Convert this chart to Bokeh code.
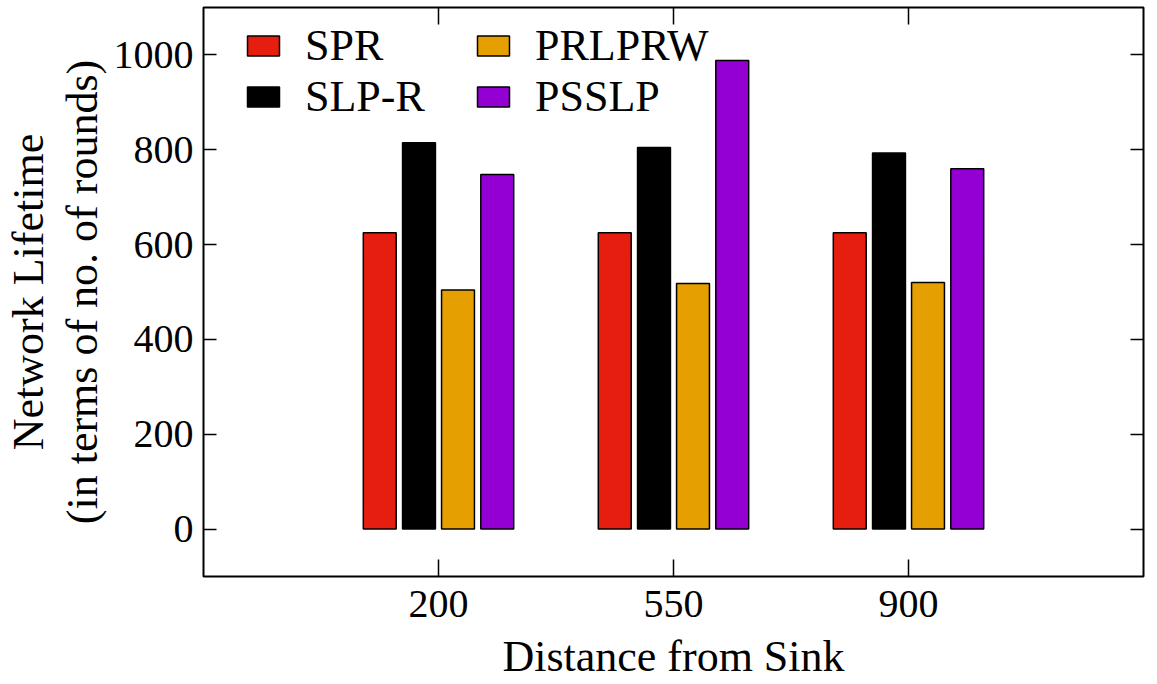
from bokeh.plotting import figure
from bokeh.models import (FixedTicker, LinearAxis, Range1d, Legend, LegendItem,
                          ColumnDataSource)
from bokeh.embed import file_html
from bokeh.resources import INLINE

# ---- data ----
distances = ["200", "550", "900"]
series_names = ["SPR", "SLP-R", "PRLPRW", "PSSLP"]
spr = [625, 625, 625]
slp_r = [815, 805, 793]
prlprw = [504, 518, 520]
psslp = [748, 988, 760]
colors = ["#e51e10", "#000000", "#e69f00", "#9400d3"]
y_ticks = [0, 200, 400, 600, 800, 1000]

FONT = "Liberation Serif"

p = figure(width=1157, height=684, output_backend="svg", toolbar_location=None,
           x_range=Range1d(0, 4), y_range=Range1d(-100, 1100))
p.min_border_left = 203
p.min_border_right = 14
p.min_border_top = 7
p.min_border_bottom = 108
p.xgrid.visible = False
p.ygrid.visible = False
p.outline_line_color = "black"
p.outline_line_width = 2
p.background_fill_color = "white"
p.border_fill_color = "white"

group_x = [1, 2, 3]
offsets = [-0.25, -0.083, 0.083, 0.25]
values = [spr, slp_r, prlprw, psslp]
renderers = []
for vals, off, col in zip(values, offsets, colors):
    src = ColumnDataSource(dict(x=[g + off for g in group_x], top=vals))
    r = p.vbar(x="x", top="top", bottom=0, width=0.14, source=src,
               fill_color=col, line_color="black", line_width=1.5)
    renderers.append(r)

# axes
xa = p.xaxis[0]
xa.ticker = FixedTicker(ticks=group_x)
xa.major_label_overrides = {g: d for g, d in zip(group_x, distances)}
ya = p.yaxis[0]
ya.ticker = FixedTicker(ticks=y_ticks)
for ax in (xa, ya):
    ax.axis_line_color = None
    ax.major_tick_out = 0
    ax.minor_tick_line_color = None
    ax.major_tick_line_color = "black"
    ax.major_tick_line_width = 1.5
    ax.major_label_text_font = FONT
    ax.major_label_text_font_size = "40px"
    ax.major_label_text_color = "black"
    ax.axis_label_text_font = FONT
    ax.axis_label_text_font_size = "44px"
    ax.axis_label_text_font_style = "normal"
    ax.axis_label_text_color = "black"
xa.major_tick_in = 17
ya.major_tick_in = 13
xa.major_label_standoff = 14
ya.major_label_standoff = 10
xa.axis_label = "Distance from Sink"
xa.axis_label_standoff = 12
ya.axis_label = "Network Lifetime\n(in terms of no. of rounds)"
ya.axis_label_standoff = 4
ya.axis_label_text_line_height = 1.1

# mirrored ticks
ra = LinearAxis(ticker=FixedTicker(ticks=y_ticks), major_label_text_font_size="0px",
                axis_line_color=None, major_tick_out=0, major_tick_in=13,
                major_tick_line_width=1.5, minor_tick_line_color=None)
ra.major_label_overrides = {t: "" for t in y_ticks}
p.add_layout(ra, "right")
ta = LinearAxis(ticker=FixedTicker(ticks=group_x), major_label_text_font_size="0px",
                axis_line_color=None, major_tick_out=0, major_tick_in=17,
                major_tick_line_width=1.5, minor_tick_line_color=None)
ta.major_label_overrides = {g: "" for g in group_x}
p.add_layout(ta, "above")
p.min_border_top = 7
p.min_border_right = 14

# legend
items = [LegendItem(label=n, renderers=[r]) for n, r in zip(series_names, renderers)]
legend = Legend(items=items, ncols=2,
                label_text_font=FONT, label_text_font_size="44px",
                label_text_color="black",
                glyph_width=40, glyph_height=25, label_standoff=22,
                label_width=168, label_height=40,
                spacing=0, padding=0, margin=0,
                border_line_color=None, background_fill_alpha=0)
p.add_layout(legend, "center")
legend.location = (40, 454)

open("out.html", "w").write(file_html(p, INLINE))
